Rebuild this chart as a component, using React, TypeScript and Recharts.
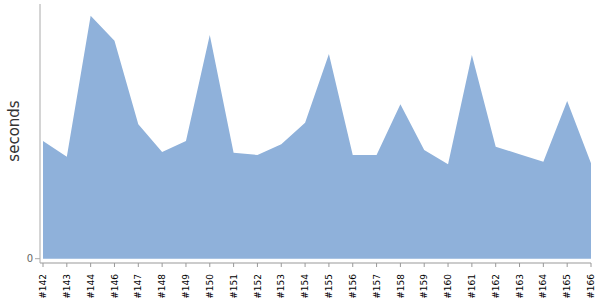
import { AreaChart, Area, XAxis, YAxis } from "recharts";

const builds = [
  "#142", "#143", "#144", "#146", "#147", "#148", "#149", "#150",
  "#151", "#152", "#153", "#154", "#155", "#156", "#157", "#158",
  "#159", "#160", "#161", "#162", "#163", "#164", "#165", "#166",
];

const durations = [
  117.7, 102, 243, 218, 134.4, 106.7, 117.7, 223.7,
  106, 103.7, 114.4, 136, 204.7, 103.7, 103.7, 154.4,
  108.7, 94.4, 203.7, 112, 104.4, 97, 157.7, 95.4,
];

const yTicks = [0];

const data = builds.map((b, i) => ({ build: b, seconds: durations[i] }));

const font = "'DejaVu Sans', Verdana, sans-serif";

function BuildTick({ x, y, payload }: any) {
  return (
    <text
      x={x}
      y={y + 5}
      transform={`rotate(-90 ${x} ${y + 5})`}
      textAnchor="end"
      dy="0.35em"
      fontSize={9}
      fontFamily={font}
      fill="#000"
    >
      {payload.value}
    </text>
  );
}

export default function App() {
  return (
    <div style={{ position: "absolute", left: 0, top: 0 }}>
      <AreaChart
        width={600}
        height={300}
        data={data}
        margin={{ top: 4, right: 9, bottom: 0, left: 0 }}
      >
        <XAxis
          dataKey="build"
          interval={0}
          height={37}
          tickSize={4}
          padding={{ left: 3, right: 0 }}
          stroke="#999"
          tick={<BuildTick />}
        />
        <YAxis
          width={40}
          domain={[-4.3, 254.7]}
          ticks={yTicks}
          tickSize={5}
          stroke="#aaa"
          tick={{ fontSize: 10, fontFamily: font, fill: "#666" }}
          label={{
            value: "seconds",
            content: () => (
              <text
                x={13.5}
                y={131}
                transform="rotate(-90 13.5 131)"
                textAnchor="middle"
                dominantBaseline="central"
                fontSize={15}
                fontFamily={font}
                fill="#333"
              >
                seconds
              </text>
            ),
          }}
        />
        <Area
          type="linear"
          dataKey="seconds"
          fill="#8fb1da"
          fillOpacity={1}
          stroke="none"
          isAnimationActive={false}
        />
      </AreaChart>
    </div>
  );
}
